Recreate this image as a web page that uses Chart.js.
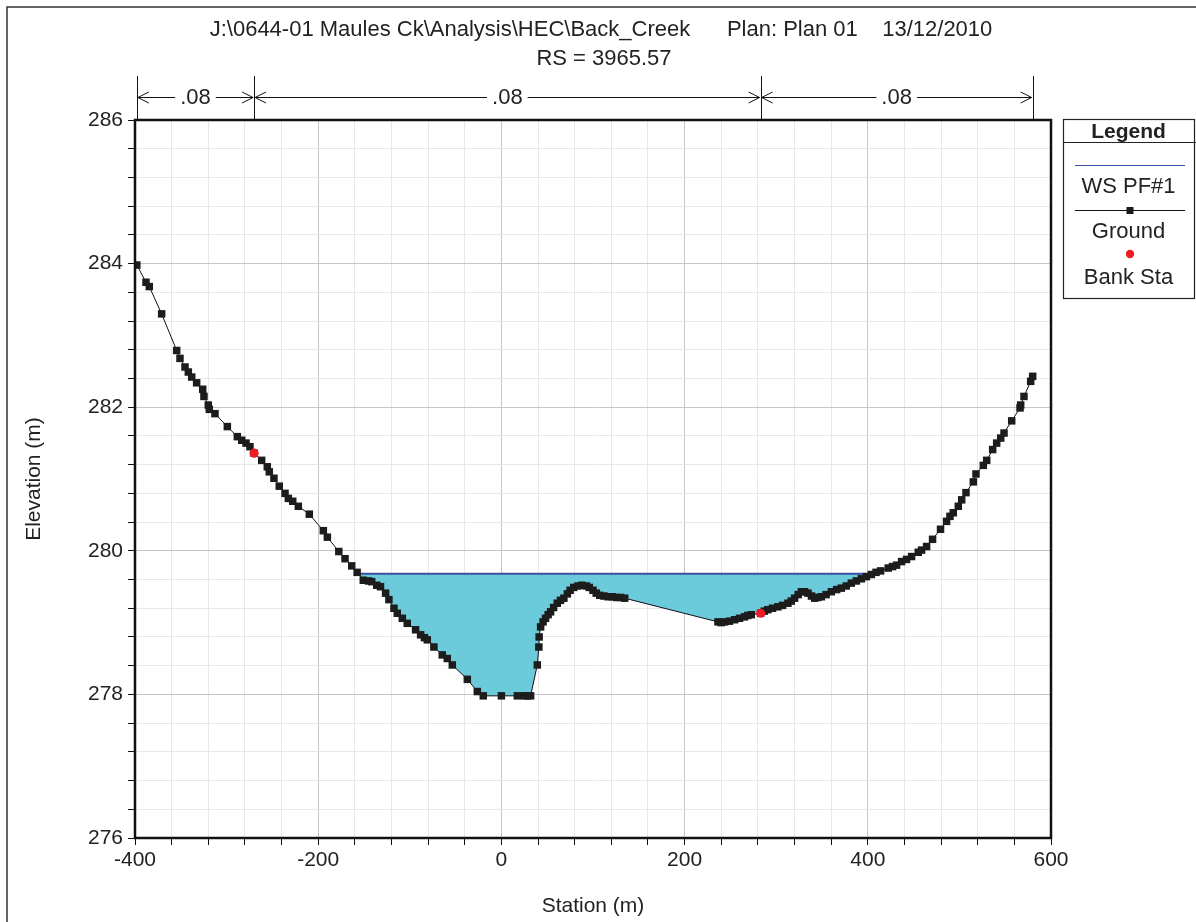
<!DOCTYPE html>
<html><head><meta charset="utf-8">
<script src="https://cdn.jsdelivr.net/npm/chart.js@4/dist/chart.umd.min.js"></script>
<style>html,body{margin:0;padding:0;background:#fff;} canvas{display:block;}</style>
</head><body>
<canvas id="c" width="1196" height="922"></canvas>
<script>
// ---------- data ----------
const titleLines = ["J:\\0644-01 Maules Ck\\Analysis\\HEC\\Back_Creek      Plan: Plan 01    13/12/2010", "RS = 3965.57"];
const groundStations = [-398,-388,-384.4,-370.9,-354.5,-350.9,-345.4,-341.8,-338.1,-332.7,-326.1,-324.7,-320,-318.9,-312.7,-299.2,-288.3,-283.5,-278.8,-274.5,-270,-261.7,-255.6,-253.4,-248.3,-242.5,-236.2,-232.6,-227.8,-221.7,-209.7,-194.4,-190,-177.5,-170.7,-163.4,-157.5,-150.8,-145,-141.6,-136.1,-132,-126.4,-122.8,-117.3,-113.7,-108.2,-102.8,-93.7,-88.2,-84,-80.9,-73.7,-64.6,-59.1,-53.6,-37.2,-26.3,-19.8,0,17.4,25,28.3,31.9,39.2,40.9,41.2,42.8,45.5,48.2,51,53.7,57,61,64.5,68.2,72,75,79,83.6,88,92.8,96,100,103.5,107.3,112,116.4,121,125.5,130,134.6,236.4,240,243.7,249,254.6,260,265.5,269,272.8,283,287,290.9,296,301.9,307,312.8,316.5,320.1,324,327.5,331,334.7,338.5,342,345.5,349.3,354.5,360.2,366,371.1,376.5,382,387.5,393,398.5,403.9,409,414,422.3,427,431.4,436.9,442.3,447.8,455.1,458.7,464.2,470.7,479.4,486,489.7,493.3,498.8,502.5,507.2,515.2,518.1,526.1,529.8,536.3,540.7,545.1,548.7,557.1,566.2,566.9,570.5,577.8,580];
const groundElevations = [283.98,283.74,283.68,283.30,282.79,282.68,282.56,282.49,282.42,282.34,282.25,282.15,282.03,281.97,281.91,281.73,281.59,281.54,281.50,281.45,281.36,281.26,281.17,281.10,281.01,280.90,280.80,280.73,280.69,280.62,280.51,280.28,280.19,279.99,279.89,279.79,279.70,279.59,279.58,279.57,279.52,279.50,279.41,279.32,279.20,279.13,279.06,278.99,278.90,278.83,278.79,278.76,278.66,278.55,278.50,278.41,278.21,278.04,277.98,277.98,277.98,277.98,277.98,277.98,278.41,278.66,278.80,278.94,279.01,279.06,279.11,279.15,279.21,279.27,279.31,279.34,279.40,279.45,279.49,279.51,279.52,279.51,279.49,279.45,279.41,279.38,279.37,279.36,279.36,279.35,279.35,279.34,279.01,279.00,279.01,279.02,279.04,279.06,279.08,279.10,279.11,279.13,279.16,279.18,279.20,279.22,279.24,279.27,279.30,279.34,279.39,279.43,279.43,279.41,279.37,279.34,279.35,279.36,279.39,279.43,279.46,279.48,279.51,279.55,279.58,279.61,279.64,279.67,279.70,279.72,279.76,279.78,279.80,279.85,279.88,279.92,279.98,280.01,280.06,280.16,280.30,280.41,280.48,280.53,280.62,280.71,280.81,280.96,281.07,281.19,281.26,281.41,281.50,281.57,281.64,281.81,281.99,282.03,282.15,282.36,282.43];
const bankStations = [-270, 283];
const bankElevations = [281.36, 279.13];
const wsElevation = 279.68;
const wsStations = [-155, 404];
const nBreakStations = [-398, -270, 283, 580];
const nValues = [".08", ".08", ".08"];
const legendLabels = ["WS PF#1", "Ground", "Bank Sta"];
const xRange = [-400, 600];
const yRange = [276, 286];
const xLabelStep = 200, xMinorStep = 40;
const yLabelStep = 2, yMinorStep = 0.4;

// ---------- build ----------
const FONT = '"Liberation Sans", Arial, sans-serif';
const groundData = groundStations.map((s, i) => ({x: s, y: groundElevations[i]}));
const waterData = [{x: wsStations[0], y: wsElevation}]
  .concat(groundData.filter(p => p.x > wsStations[0] && p.x < wsStations[1]))
  .concat([{x: wsStations[1], y: wsElevation}]);
const wsData = wsStations.map(s => ({x: s, y: wsElevation}));
const bankData = bankStations.map((s, i) => ({x: s, y: bankElevations[i]}));
const isMult = (v, step) => Math.abs(v / step - Math.round(v / step)) < 1e-6;

const decorPlugin = {
  id: 'decor',
  afterDraw(chart) {
    const {ctx, chartArea: a, scales: {x}} = chart;
    ctx.save();
    // outer frame
    ctx.strokeStyle = '#333'; ctx.lineWidth = 1.5;
    ctx.beginPath(); ctx.moveTo(7, 922); ctx.lineTo(7, 7); ctx.lineTo(1196, 7); ctx.stroke();
    // plot border
    ctx.strokeStyle = '#111'; ctx.lineWidth = 2.5;
    ctx.strokeRect(a.left, a.top, a.right - a.left, a.bottom - a.top);
    // title
    ctx.fillStyle = '#222'; ctx.font = '22px ' + FONT;
    ctx.textAlign = 'center'; ctx.textBaseline = 'middle';
    ctx.fillText(titleLines[0], 601, 30);
    ctx.fillText(titleLines[1], 604, 59);
    // Manning's n
    const yArrow = 97;
    ctx.strokeStyle = '#111'; ctx.lineWidth = 1;
    const px = nBreakStations.map(s => x.getPixelForValue(s));
    px.forEach(p => { ctx.beginPath(); ctx.moveTo(Math.round(p) + 0.5, 76); ctx.lineTo(Math.round(p) + 0.5, a.top); ctx.stroke(); });
    for (let i = 0; i < nValues.length; i++) {
      const x0 = px[i] + 1, x1 = px[i + 1] - 1, cx = (x0 + x1) / 2;
      const tw = ctx.measureText(nValues[i]).width / 2 + 5;
      ctx.beginPath();
      ctx.moveTo(x0, yArrow + 0.5); ctx.lineTo(cx - tw, yArrow + 0.5);
      ctx.moveTo(cx + tw, yArrow + 0.5); ctx.lineTo(x1, yArrow + 0.5);
      ctx.moveTo(x0 + 11, yArrow - 5); ctx.lineTo(x0, yArrow + 0.5); ctx.lineTo(x0 + 11, yArrow + 6);
      ctx.moveTo(x1 - 11, yArrow - 5); ctx.lineTo(x1, yArrow + 0.5); ctx.lineTo(x1 - 11, yArrow + 6);
      ctx.stroke();
      ctx.fillText(nValues[i], cx, yArrow + 1);
    }
    // legend
    const L = 1063, R = 1194, T = 119, B = 298;
    ctx.lineWidth = 1.2; ctx.strokeStyle = '#222';
    ctx.strokeRect(L + 0.5, T + 0.5, R - L, B - T);
    ctx.beginPath(); ctx.moveTo(L, 142.5); ctx.lineTo(R + 2, 142.5); ctx.stroke();
    ctx.font = 'bold 21px ' + FONT; ctx.fillStyle = '#222';
    ctx.fillText('Legend', (L + R) / 2, 132);
    ctx.font = '22px ' + FONT;
    const lx0 = 1075, lx1 = 1185, lc = (lx0 + lx1) / 2;
    ctx.strokeStyle = '#3b4ea3'; ctx.lineWidth = 1.2;
    ctx.beginPath(); ctx.moveTo(lx0, 165.5); ctx.lineTo(lx1, 165.5); ctx.stroke();
    ctx.fillText(legendLabels[0], (L + R) / 2, 187);
    ctx.strokeStyle = '#111'; ctx.lineWidth = 1;
    ctx.beginPath(); ctx.moveTo(lx0, 210.5); ctx.lineTo(lx1, 210.5); ctx.stroke();
    ctx.fillStyle = '#1a1a1a'; ctx.fillRect(lc - 3.5, 207, 7, 7);
    ctx.fillStyle = '#222';
    ctx.fillText(legendLabels[1], (L + R) / 2, 232);
    ctx.fillStyle = '#ee1c24';
    ctx.beginPath(); ctx.arc(lc, 254, 4.2, 0, Math.PI * 2); ctx.fill();
    ctx.fillStyle = '#222';
    ctx.fillText(legendLabels[2], (L + R) / 2, 278);
    ctx.restore();
  }
};

new Chart(document.getElementById('c'), {
  type: 'scatter',
  data: {
    datasets: [
      {label: legendLabels[2], data: bankData, showLine: false, pointStyle: 'circle', pointRadius: 4.6,
       pointBackgroundColor: '#ee1c24', pointBorderWidth: 0, order: 0},
      {label: legendLabels[1], data: groundData, showLine: true, borderColor: '#111', borderWidth: 1,
       pointStyle: 'rect', pointRadius: 5.3, pointBackgroundColor: '#1c1c1c', pointBorderWidth: 0, order: 1},
      {label: legendLabels[0], data: wsData, showLine: true, borderColor: '#3b4ea3', borderWidth: 2,
       pointRadius: 0, order: 2},
      {label: 'water', data: waterData, showLine: true, borderWidth: 0, borderColor: 'rgba(0,0,0,0)',
       pointRadius: 0, fill: {value: wsElevation}, backgroundColor: '#6ccbdb', order: 3}
    ]
  },
  options: {
    responsive: false, animation: false, devicePixelRatio: 1,
    layout: {padding: {top: 120, right: 145, left: 0, bottom: 0}},
    plugins: {legend: {display: false}, tooltip: {enabled: false}, title: {display: false}},
    scales: {
      x: {
        type: 'linear', min: xRange[0], max: xRange[1],
        afterFit(s) { s.height = 84; },
        ticks: {stepSize: xMinorStep, autoSkip: false, maxRotation: 0, padding: 3, color: '#222',
          font: {size: 21, family: FONT}, callback: v => isMult(v, xLabelStep) ? String(Math.round(v)) : ''},
        grid: {color: c => isMult(c.tick.value, xLabelStep) ? '#c6c6c6' : '#e8e8e8', lineWidth: 1,
          tickColor: '#111', tickLength: 7, drawTicks: true},
        border: {display: true, color: '#111', width: 2},
        title: {display: true, text: 'Station (m)', color: '#222', font: {size: 21, family: FONT}, padding: {top: 4, bottom: 3}}
      },
      y: {
        type: 'linear', min: yRange[0], max: yRange[1],
        afterFit(s) { s.width = 135; },
        ticks: {stepSize: yMinorStep, autoSkip: false, padding: 5, color: '#222',
          font: {size: 21, family: FONT}, callback: v => isMult(v, yLabelStep) ? String(Math.round(v)) : ''},
        grid: {color: c => isMult(c.tick.value, yLabelStep) ? '#c6c6c6' : '#e8e8e8', lineWidth: 1,
          tickColor: '#111', tickLength: 7, drawTicks: true},
        border: {display: true, color: '#111', width: 2},
        title: {display: true, text: 'Elevation (m)', color: '#222', font: {size: 21, family: FONT}, padding: {top: 22, bottom: 0}}
      }
    }
  },
  plugins: [decorPlugin]
});
</script>
</body></html>
